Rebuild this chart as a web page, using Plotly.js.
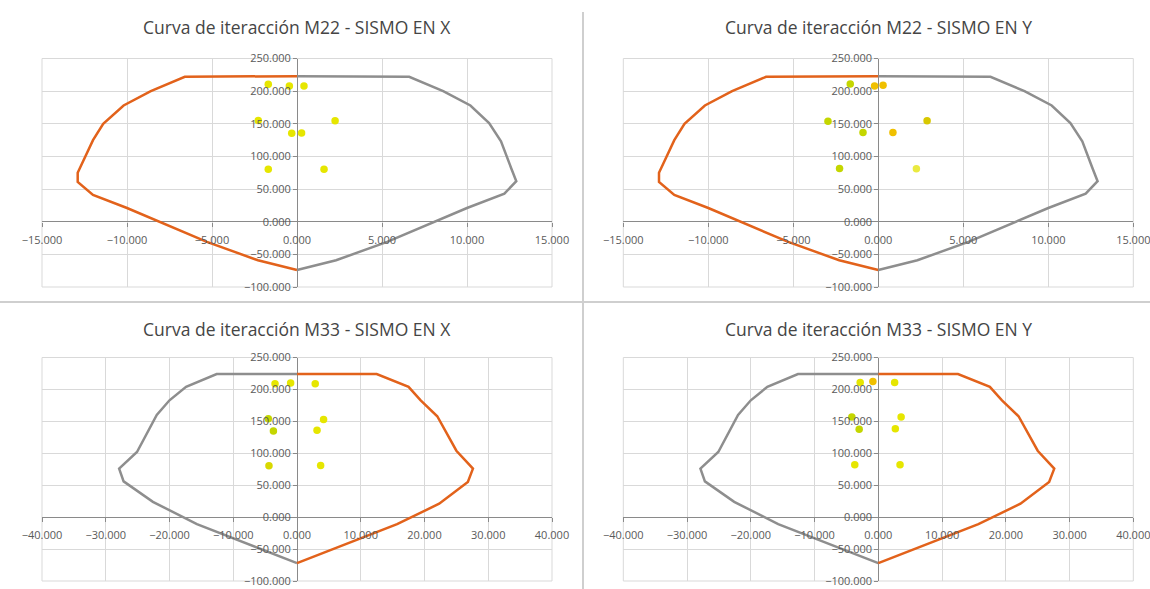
<!DOCTYPE html>
<html>
<head>
<meta charset="utf-8">
<script src="https://cdn.plot.ly/plotly-3.0.1.min.js"></script>
<style>html,body{margin:0;padding:0;background:#fff;}#chart{width:1150px;height:589px;}</style>
</head>
<body>
<div id="chart"></div>
<script>
// ---------------- DATA ----------------
const titles = [
  "Curva de iteracción M22 - SISMO EN X",
  "Curva de iteracción M22 - SISMO EN Y",
  "Curva de iteracción M33 - SISMO EN X",
  "Curva de iteracción M33 - SISMO EN Y"
];
const yTicks = [-100, -50, 0, 50, 100, 150, 200, 250];
const m22Ticks = [-15, -10, -5, 0, 5, 10, 15];
const m33Ticks = [-40, -30, -20, -10, 0, 10, 20, 30, 40];

// M22 interaction curve (two halves)
const m22NegX = [0, -6.6, -8.6, -10.2, -11.4, -12.0, -12.9, -12.9, -12.0, -10.0, -5.3, -2.3, 0];
const m22NegY = [223, 222, 200, 178, 150, 125, 75, 61, 41, 21, -31, -59, -74];
const m22PosX = [0, 6.6, 8.6, 10.2, 11.3, 12.0, 12.6, 12.9, 12.2, 10.0, 5.3, 2.3, 0];
const m22PosY = [223, 222, 200, 178, 151, 123, 82, 62, 43, 21, -31, -59, -74];

// M33 interaction curve (two halves)
const m33NegX = [0, -12.6, -17.4, -20.0, -22.0, -25.1, -27.9, -27.2, -22.6, -15.7, 0];
const m33NegY = [224, 224, 204, 183, 160, 102, 76, 56, 24, -11, -72];
const m33PosX = [0, 12.5, 17.5, 19.4, 22.0, 25.0, 27.6, 26.8, 22.3, 15.7, 0];
const m33PosY = [224, 224, 204, 183, 158, 104, 76, 55, 21, -11, -72];

// Demand points
const p1X = [-1.69, -0.45, 0.41, -2.28, 2.24, -0.31, 0.27, -1.69, 1.59];
const p1Y = [210.5, 208, 208, 155, 154.5, 135.5, 136, 80.5, 80.5];
const p2X = [-1.65, -0.22, 0.28, -2.96, -0.90, 0.86, 2.87, -2.28, 2.24];
const p2Y = [211, 208, 209, 154, 136.5, 136.5, 154.5, 81.5, 81];
const p3X = [-3.45, -1.0, 2.86, -4.5, 4.17, -3.7, 3.14, -4.4, 3.71];
const p3Y = [209, 210, 209, 154, 153, 135, 136, 80.5, 81];
const p4X = [-2.84, -0.85, 2.56, -4.15, 3.58, -3.0, 2.67, -3.69, 3.41];
const p4Y = [211, 212.5, 211, 157, 157, 137.5, 138.5, 82, 82];

// ---------------- STYLE ----------------
const ORANGE = '#E2621B', GRAY = '#8E8E8E';
const YEL = '#E6E600', GRN = '#C4D600', ORG = '#F0C000';
const c1 = [YEL, YEL, YEL, YEL, YEL, YEL, YEL, YEL, YEL];
const c2 = [GRN, ORG, ORG, GRN, GRN, ORG, '#D8C800', GRN, '#EAEA40'];
const c3 = [YEL, YEL, YEL, GRN, YEL, GRN, YEL, '#D8D800', YEL];
const c4 = [YEL, ORG, YEL, GRN, YEL, GRN, YEL, YEL, YEL];
const GRID = '#d9d9d9';

const W = 1150, H = 589;
const colDom = [[42 / W, 552 / W], [623.3 / W, 1133.3 / W]];
const rowDom = [[1 - 287 / H, 1 - 58.5 / H], [1 - 581 / H, 1 - 357.5 / H]];

const panels = [
  {curve: [m22NegX, m22NegY, m22PosX, m22PosY], negCol: ORANGE, posCol: GRAY, px: p1X, py: p1Y, pc: c1, xt: m22Ticks, col: 0, row: 0},
  {curve: [m22NegX, m22NegY, m22PosX, m22PosY], negCol: ORANGE, posCol: GRAY, px: p2X, py: p2Y, pc: c2, xt: m22Ticks, col: 1, row: 0},
  {curve: [m33NegX, m33NegY, m33PosX, m33PosY], negCol: GRAY, posCol: ORANGE, px: p3X, py: p3Y, pc: c3, xt: m33Ticks, col: 0, row: 1},
  {curve: [m33NegX, m33NegY, m33PosX, m33PosY], negCol: GRAY, posCol: ORANGE, px: p4X, py: p4Y, pc: c4, xt: m33Ticks, col: 1, row: 1}
];

const tickFont = {family: 'Open Sans, sans-serif', size: 11, color: '#5a5a5a'};
const traces = [];
const layout = {
  width: W, height: H,
  margin: {l: 0, r: 0, t: 0, b: 0},
  paper_bgcolor: '#fff', plot_bgcolor: 'rgba(0,0,0,0)',
  showlegend: false, hovermode: false,
  annotations: [], shapes: []
};

panels.forEach((p, i) => {
  const n = i === 0 ? '' : String(i + 1);
  const xa = 'x' + n, ya = 'y' + n;
  const xd = colDom[p.col], yd = rowDom[p.row];
  const yMin = yTicks[0], yMax = yTicks[yTicks.length - 1];
  const xMin = p.xt[0], xMax = p.xt[p.xt.length - 1];
  const yZeroFrac = yd[0] + (0 - yMin) / (yMax - yMin) * (yd[1] - yd[0]);
  const xZeroFrac = xd[0] + (0 - xMin) / (xMax - xMin) * (xd[1] - xd[0]);

  traces.push({x: p.curve[0], y: p.curve[1], xaxis: xa, yaxis: ya, mode: 'lines', line: {color: p.negCol, width: 2.5}});
  traces.push({x: p.curve[2], y: p.curve[3], xaxis: xa, yaxis: ya, mode: 'lines', line: {color: p.posCol, width: 2.5}});
  traces.push({x: p.px, y: p.py, xaxis: xa, yaxis: ya, mode: 'markers', marker: {color: p.pc, size: 7.5}});

  layout['xaxis' + n] = {
    domain: xd, range: [xMin, xMax], anchor: 'free', position: yZeroFrac,
    tickvals: p.xt, tickformat: '.3f', tickfont: tickFont, ticklabeloverflow: 'allow',
    showgrid: true, gridcolor: GRID, gridwidth: 1,
    zeroline: true, zerolinecolor: '#8a8a8a', zerolinewidth: 1,
    showline: false, ticks: 'outside', ticklen: 4, tickcolor: '#8a8a8a',
    ticklabelstandoff: 4, fixedrange: true
  };
  layout['yaxis' + n] = {
    domain: yd, range: [yMin, yMax], anchor: 'free', position: xZeroFrac,
    tickvals: yTicks, tickformat: '.3f', tickfont: tickFont, ticklabeloverflow: 'allow',
    showgrid: true, gridcolor: GRID, gridwidth: 1,
    zeroline: true, zerolinecolor: '#8a8a8a', zerolinewidth: 1,
    showline: false, ticks: 'outside', ticklen: 4, tickcolor: '#8a8a8a',
    fixedrange: true
  };
  // plot-area border (outer gridlines)
  layout.shapes.push({type: 'rect', xref: 'paper', yref: 'paper', layer: 'below',
    x0: xd[0], x1: xd[1], y0: yd[0], y1: yd[1], line: {color: GRID, width: 1}});
  layout.annotations.push({
    text: titles[i], xref: 'paper', yref: 'paper',
    x: (xd[0] + xd[1]) / 2, y: 1 - (p.row === 0 ? 27 : 329) / H,
    xanchor: 'center', yanchor: 'middle', showarrow: false,
    font: {family: 'Open Sans, sans-serif', size: 17.5, color: '#454545'}
  });
});

// panel dividers
layout.shapes.push({type: 'line', xref: 'paper', yref: 'paper', x0: 583 / W, x1: 583 / W, y0: 1 - 12 / H, y1: 0, line: {color: '#cfcfcf', width: 2}});
layout.shapes.push({type: 'line', xref: 'paper', yref: 'paper', x0: 0, x1: 1, y0: 1 - 302 / H, y1: 1 - 302 / H, line: {color: '#cfcfcf', width: 2}});

Plotly.newPlot('chart', traces, layout, {displayModeBar: false, staticPlot: true});
</script>
</body>
</html>
